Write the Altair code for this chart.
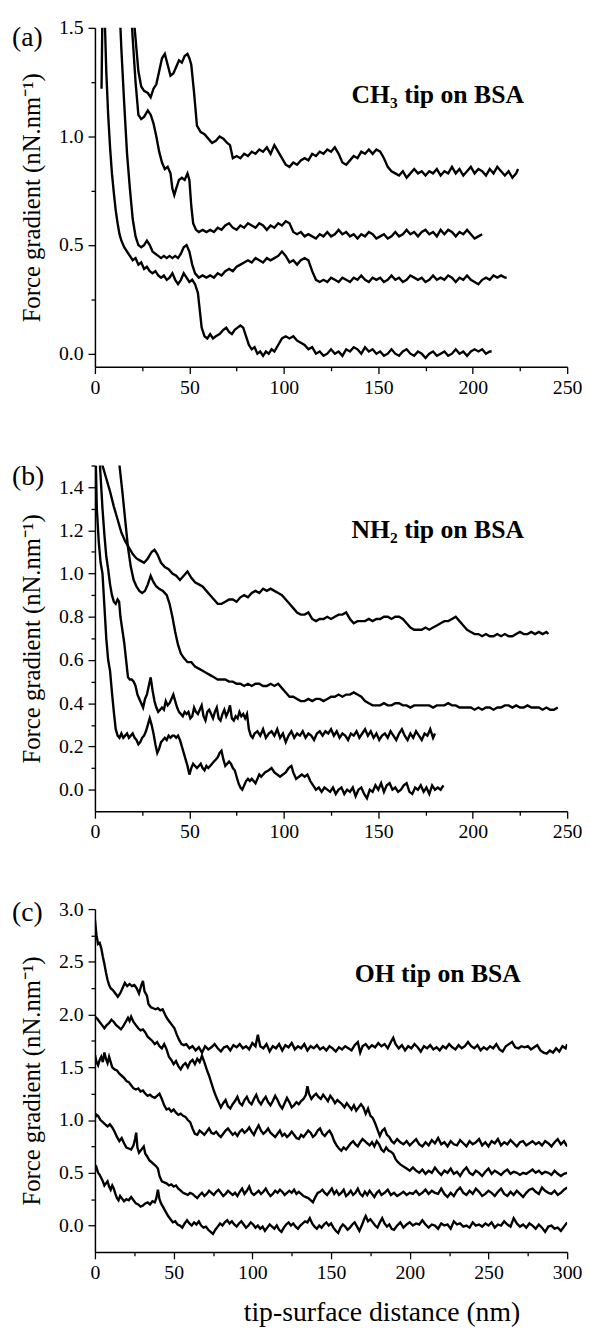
import altair as alt
import pandas as pd

FONT = "Liberation Serif"

# ---------------- Panel (a): CH3 tip on BSA ----------------
a1 = [(20,1.6),(21.5,1.45),(23,1.3),(24.5,1.23),(26,1.21),(28,1.2),(29.5,1.18),(31,1.22),(32.5,1.24),(34,1.3),
      (35.5,1.36),(37,1.38),(38.5,1.33),(40,1.28),(41.5,1.29),(43,1.32),(44.5,1.35),(46,1.34),(47.5,1.37),(49,1.38),
      (50,1.36),(51,1.33),(52.5,1.2),(54,1.05),(56,1.02),(58,1.01),(60,0.99),(62,0.97),(64,0.98),(66,1.0),
      (68,0.99),(70,0.97),(71.5,0.96),(73,0.9),(75,0.91),(77,0.9),(79,0.92),(81,0.91),(83,0.93),(85,0.92),
      (87,0.94),(89,0.93),(91,0.95),(93,0.92),(95,0.96),(97,0.93),(99,0.9),(101,0.87),(103,0.86),(105,0.88),
      (107,0.87),(109,0.89),(111,0.9),(113,0.89),(115,0.92),(117,0.91),(119,0.93),(121,0.92),(123,0.94),(125,0.93),
      (127,0.95),(129,0.92),(131,0.88),(133,0.87),(135,0.89),(137,0.91),(139,0.9),(141,0.93),(143,0.92),(145,0.94),
      (147,0.92),(149,0.94),(151,0.93),(153,0.9),(155,0.86),(157,0.84),(159,0.83),(161,0.82),(163,0.84),(165,0.81),
      (167,0.83),(169,0.85),(171,0.83),(173,0.84),(175,0.82),(177,0.84),(179,0.83),(181,0.85),(183,0.82),(185,0.84),
      (187,0.83),(189,0.86),(191,0.83),(193,0.85),(195,0.82),(197,0.84),(199,0.86),(201,0.83),(203,0.85),(205,0.84),
      (207,0.82),(209,0.85),(211,0.83),(213,0.86),(215,0.84),(217,0.82),(219,0.84),(221,0.81),(223,0.83),(224,0.85)]
a2 = [(19,1.6),(20,1.45),(21.5,1.25),(23,1.1),(24.5,1.08),(26,1.09),(28,1.12),(29.5,1.1),(31,1.06),(32.5,1.0),
      (34,0.93),(35.5,0.88),(37,0.85),(38.5,0.86),(40,0.83),(41,0.76),(42,0.73),(43,0.76),(44.5,0.8),(46,0.81),
      (47.5,0.8),(49,0.83),(50,0.8),(51,0.68),(52,0.6),(53.5,0.57),(55,0.56),(57,0.57),(59,0.56),(61,0.57),
      (63,0.56),(65,0.58),(67,0.57),(69,0.59),(71,0.6),(73,0.58),(75,0.57),(77,0.59),(79,0.58),(81,0.6),
      (83,0.59),(85,0.58),(87,0.6),(89,0.59),(91,0.57),(93,0.59),(95,0.58),(97,0.6),(99,0.59),(101,0.61),
      (103,0.6),(105,0.56),(107,0.55),(109,0.56),(111,0.54),(113,0.55),(115,0.54),(117,0.53),(119,0.55),(121,0.54),
      (123,0.56),(125,0.54),(127,0.55),(129,0.57),(131,0.55),(133,0.56),(135,0.54),(137,0.55),(139,0.53),(141,0.55),
      (143,0.54),(145,0.56),(147,0.55),(149,0.53),(151,0.54),(153,0.55),(155,0.53),(157,0.54),(159,0.56),(161,0.54),
      (163,0.55),(165,0.57),(167,0.55),(169,0.56),(171,0.54),(173,0.56),(175,0.57),(177,0.55),(179,0.56),(181,0.54),
      (183,0.57),(185,0.55),(187,0.57),(189,0.56),(191,0.54),(193,0.56),(195,0.55),(197,0.57),(199,0.55),(201,0.53),
      (203,0.54),(205,0.55)]
a3 = [(13,1.6),(14,1.4),(15.5,1.15),(17,0.92),(18.5,0.76),(20,0.62),(21.5,0.54),(23,0.5),(24.5,0.49),(26,0.5),
      (27.5,0.52),(29,0.5),(30.5,0.47),(32,0.46),(33.5,0.45),(35,0.44),(36.5,0.45),(38,0.44),(39.5,0.45),(41,0.44),
      (42.5,0.45),(44,0.44),(45.5,0.46),(47,0.49),(48.5,0.5),(50,0.47),(51.5,0.41),(53,0.37),(55,0.35),(57,0.36),
      (59,0.35),(61,0.36),(63,0.35),(65,0.37),(67,0.36),(69,0.38),(71,0.39),(73,0.38),(75,0.4),(77,0.41),
      (79,0.42),(81,0.43),(83,0.42),(85,0.44),(87,0.43),(89,0.42),(91,0.44),(93,0.43),(95,0.44),(97,0.45),
      (99,0.47),(101,0.45),(103,0.42),(105,0.43),(107,0.41),(109,0.43),(111,0.44),(113,0.43),(115,0.38),(117,0.34),
      (119,0.33),(121,0.34),(123,0.33),(125,0.35),(127,0.34),(129,0.33),(131,0.35),(133,0.34),(135,0.33),(137,0.35),
      (139,0.34),(141,0.36),(143,0.34),(145,0.33),(147,0.35),(149,0.34),(151,0.35),(153,0.33),(155,0.34),(157,0.36),
      (159,0.34),(161,0.35),(163,0.33),(165,0.34),(167,0.36),(169,0.35),(171,0.34),(173,0.35),(175,0.33),(177,0.34),
      (179,0.36),(181,0.34),(183,0.35),(185,0.34),(187,0.36),(189,0.35),(191,0.33),(193,0.35),(195,0.34),(197,0.36),
      (199,0.34),(201,0.33),(203,0.32),(205,0.34),(207,0.35),(209,0.34),(211,0.36),(213,0.35),(215,0.36),(217,0.35),(218,0.35)]
a4 = [(3.5,1.22),(4,1.6),(5,1.6),(6,1.3),(7,1.1),(8,0.95),(9,0.83),(10,0.74),(11,0.66),(12,0.6),
      (13,0.55),(14,0.52),(15.5,0.49),(17,0.47),(18.5,0.45),(20,0.43),(21.5,0.44),(23,0.41),(24.5,0.42),(26,0.39),
      (27.5,0.4),(29,0.38),(30.5,0.37),(32,0.38),(33.5,0.36),(35,0.35),(36.5,0.36),(38,0.34),(39.5,0.35),(41,0.37),
      (42.5,0.34),(44,0.32),(45.5,0.34),(47,0.37),(48.5,0.35),(50,0.33),(51.5,0.34),(53,0.32),(54.5,0.28),(55.5,0.2),
      (56.5,0.12),(58,0.08),(59.5,0.07),(61,0.09),(62.5,0.07),(64,0.08),(66,0.09),(68,0.11),(69.5,0.12),(71,0.1),
      (72.5,0.09),(74,0.11),(75.5,0.12),(77,0.13),(78.5,0.12),(80,0.08),(81.5,0.04),(83,0.02),(84.5,0.03),(86,0.0),
      (87.5,0.01),(89,-0.01),(90.5,0.01),(92,0.0),(93.5,0.02),(95,0.01),(97,0.04),(99,0.07),(101,0.08),(103,0.07),
      (105,0.08),(107,0.06),(109,0.05),(111,0.04),(113,0.02),(115,0.03),(117,0.0),(119,0.01),(121,-0.01),(123,0.0),
      (125,0.02),(127,0.0),(129,0.01),(131,-0.01),(133,0.02),(135,0.01),(137,0.03),(139,0.02),(141,0.0),(143,0.03),
      (145,0.01),(147,0.02),(149,0.0),(151,0.01),(153,-0.01),(155,0.0),(157,0.02),(159,0.0),(161,-0.01),(163,0.01),
      (165,0.02),(167,0.0),(169,-0.01),(171,0.01),(173,0.0),(175,-0.02),(177,0.0),(179,0.01),(181,-0.01),(183,0.0),
      (185,0.01),(187,-0.01),(189,0.0),(191,0.02),(193,0.0),(195,0.01),(197,-0.01),(199,0.01),(201,0.02),(203,0.01),
      (205,0.02),(207,0.0),(209,0.01),(210,0.01)]

# ---------------- Panel (b): NH2 tip on BSA ----------------
b1 = [(3,1.6),(4,1.5),(6,1.44),(8,1.38),(10,1.31),(12,1.25),(14,1.19),(16,1.15),(18,1.12),(20,1.09),
      (22,1.07),(24,1.06),(26,1.05),(28,1.07),(30,1.1),(31.5,1.11),(33,1.09),(35,1.05),(37,1.03),(39,1.02),
      (41,1.0),(43,0.99),(45,0.97),(47,0.99),(49,1.01),(51,0.98),(53,0.96),(55,0.95),(57,0.94),(59,0.92),
      (61,0.9),(63,0.88),(65,0.86),(67,0.86),(69,0.87),(71,0.88),(73,0.88),(75,0.87),(77,0.89),(79,0.9),
      (81,0.89),(83,0.91),(85,0.92),(87,0.91),(89,0.93),(91,0.92),(93,0.93),(95,0.92),(97,0.91),(99,0.9),
      (101,0.88),(103,0.86),(105,0.84),(107,0.82),(109,0.81),(111,0.81),(113,0.82),(115,0.79),(117,0.78),(119,0.79),
      (121,0.79),(123,0.8),(125,0.79),(127,0.8),(129,0.81),(131,0.81),(133,0.82),(135,0.79),(137,0.77),(139,0.78),
      (141,0.78),(143,0.78),(145,0.79),(147,0.78),(149,0.79),(151,0.79),(153,0.8),(155,0.8),(157,0.79),(159,0.8),
      (161,0.8),(163,0.79),(165,0.77),(167,0.75),(169,0.74),(171,0.74),(173,0.74),(175,0.75),(177,0.74),(179,0.75),
      (181,0.76),(183,0.77),(185,0.78),(187,0.78),(189,0.79),(191,0.8),(193,0.78),(195,0.76),(197,0.74),(199,0.73),
      (201,0.72),(203,0.72),(205,0.71),(207,0.72),(209,0.71),(211,0.71),(213,0.72),(215,0.71),(217,0.72),(219,0.71),
      (221,0.71),(223,0.72),(225,0.73),(227,0.72),(229,0.72),(231,0.73),(233,0.72),(235,0.73),(237,0.72),(239,0.73),(240,0.72)]
b2 = [(12,1.6),(13,1.5),(14.5,1.38),(16,1.25),(17.5,1.12),(19,1.03),(20.5,0.97),(22,0.94),(23.5,0.92),(25,0.91),
      (26.5,0.92),(28,0.95),(29.5,0.99),(31,0.96),(32.5,0.94),(34,0.93),(36,0.92),(38,0.9),(39.5,0.86),(41,0.8),
      (42.5,0.73),(44,0.67),(45.5,0.63),(47,0.61),(49,0.59),(51,0.59),(53,0.57),(55,0.56),(57,0.55),(59,0.54),
      (61,0.53),(63,0.52),(65,0.51),(67,0.51),(69,0.51),(71,0.5),(73,0.5),(75,0.49),(77,0.49),(79,0.48),
      (81,0.49),(83,0.48),(85,0.49),(87,0.49),(89,0.48),(91,0.48),(93,0.49),(95,0.48),(97,0.49),(99,0.47),
      (101,0.45),(103,0.43),(105,0.43),(107,0.42),(109,0.41),(111,0.41),(113,0.42),(115,0.41),(117,0.42),(119,0.42),
      (121,0.41),(123,0.42),(125,0.43),(127,0.43),(129,0.44),(131,0.43),(133,0.44),(135,0.44),(137,0.45),(139,0.44),
      (141,0.43),(143,0.41),(145,0.4),(147,0.39),(149,0.39),(151,0.39),(153,0.4),(155,0.39),(157,0.39),(159,0.4),
      (161,0.4),(163,0.39),(165,0.39),(167,0.38),(169,0.39),(171,0.39),(173,0.39),(175,0.39),(177,0.39),(179,0.38),
      (181,0.39),(183,0.39),(185,0.39),(187,0.4),(189,0.39),(191,0.39),(193,0.38),(195,0.38),(197,0.38),(199,0.38),
      (201,0.37),(203,0.38),(205,0.37),(207,0.38),(209,0.38),(211,0.37),(213,0.38),(215,0.38),(217,0.39),(219,0.39),
      (221,0.38),(223,0.39),(225,0.38),(227,0.38),(229,0.39),(231,0.38),(233,0.38),(235,0.38),(237,0.37),(239,0.38),
      (241,0.37),(243,0.37),(245,0.38)]
b3 = [(2,1.6),(3,1.45),(4,1.3),(5,1.18),(6,1.08),(7,1.02),(8,0.95),(9,0.9),(10,0.87),(11,0.86),
      (12,0.88),(12.8,0.87),(13.5,0.8),(14.5,0.74),(15.5,0.68),(16.5,0.6),(17.5,0.52),(18.5,0.51),(19.5,0.51),(20.5,0.5),
      (21.5,0.48),(22.5,0.44),(23.5,0.42),(24.5,0.4),(25.5,0.38),(26.5,0.42),(27.5,0.44),(28.5,0.48),(29.5,0.52),(30.5,0.46),
      (31.5,0.41),(32.5,0.38),(33.5,0.36),(34.5,0.37),(35.5,0.38),(36.5,0.37),(37.5,0.41),(38.5,0.39),(39.5,0.4),(40.5,0.42),
      (41.5,0.44),(42.5,0.41),(43.5,0.38),(44.5,0.36),(45.5,0.35),(46.5,0.34),(47.5,0.36),(48.5,0.35),(49.5,0.36),(50.5,0.33),
      (51.5,0.34),(52.5,0.38),(53.5,0.36),(54.5,0.35),(55.5,0.37),(56.5,0.39),(57.5,0.34),(58.5,0.32),(59.5,0.36),(60.5,0.37),
      (61.5,0.35),(62.5,0.33),(63.5,0.36),(64.5,0.38),(65.5,0.33),(66.5,0.32),(67.5,0.35),(68.5,0.37),(69.5,0.34),(70.5,0.36),
      (71.5,0.39),(72.5,0.33),(73.5,0.32),(74.5,0.34),(75.5,0.33),(76.5,0.36),(77.5,0.34),(78.5,0.35),(79.5,0.33),(80.5,0.35),
      (81.5,0.28),(82.5,0.25),(83.5,0.24),(84.5,0.26),(86,0.27),(87.5,0.25),(89,0.28),(90.5,0.24),(92,0.26),(93.5,0.27),
      (95,0.25),(96.5,0.28),(98,0.24),(99.5,0.26),(101,0.22),(102.5,0.25),(104,0.27),(105.5,0.24),(107,0.26),(108.5,0.25),
      (110,0.27),(111.5,0.24),(113,0.26),(114.5,0.25),(116,0.23),(117.5,0.26),(119,0.27),(120.5,0.25),(122,0.27),(123.5,0.26),
      (125,0.28),(126.5,0.25),(128,0.27),(129.5,0.24),(131,0.26),(132.5,0.25),(134,0.23),(135.5,0.26),(137,0.25),(138.5,0.27),
      (140,0.24),(141.5,0.26),(143,0.28),(144.5,0.25),(146,0.27),(147.5,0.24),(149,0.26),(150.5,0.23),(152,0.25),(153.5,0.26),
      (155,0.24),(156.5,0.27),(158,0.25),(159.5,0.23),(161,0.26),(162.5,0.28),(164,0.25),(165.5,0.23),(167,0.26),(168.5,0.24),
      (170,0.27),(171.5,0.25),(173,0.23),(174.5,0.26),(176,0.25),(177.5,0.28),(179,0.24),(180,0.26)]
b4 = [(0,1.38),(0.5,1.5),(1,1.3),(2,1.15),(3,1.05),(4,1.0),(5,0.85),(6,0.7),(7,0.6),(8,0.55),
      (9,0.45),(10,0.36),(11,0.28),(12,0.25),(13,0.24),(14,0.26),(15,0.24),(16,0.25),(17,0.26),(18,0.24),
      (19,0.25),(20,0.26),(21,0.24),(22,0.23),(23,0.21),(24,0.22),(25,0.24),(26,0.25),(27,0.27),(28,0.3),
      (29,0.33),(30,0.3),(31,0.26),(32,0.21),(33,0.17),(34,0.19),(35,0.22),(36,0.23),(37,0.24),(38,0.23),
      (39,0.25),(40,0.24),(41,0.25),(42,0.25),(43,0.24),(44,0.25),(45,0.23),(46,0.2),(47,0.17),(48,0.14),
      (49,0.11),(50,0.07),(51,0.1),(52,0.12),(53,0.11),(54,0.1),(55,0.11),(56,0.12),(57,0.1),(58,0.09),
      (59,0.11),(60,0.1),(61,0.11),(62,0.12),(63,0.13),(64,0.14),(65,0.15),(66,0.17),(67,0.18),(68,0.14),
      (69,0.11),(70,0.12),(71,0.13),(72,0.12),(73,0.1),(74,0.09),(75,0.06),(76,0.03),(77,0.01),(78,0.0),
      (79,0.02),(80,0.04),(81,0.05),(82,0.04),(83,0.05),(84,0.04),(85,0.03),(86,0.05),(87,0.07),(88,0.06),
      (90,0.08),(92,0.09),(93.5,0.1),(95,0.08),(96.5,0.07),(98,0.06),(99.5,0.07),(101,0.08),(102.5,0.1),(104,0.11),
      (105,0.08),(106.5,0.05),(108,0.06),(109.5,0.07),(111,0.06),(112.5,0.07),(114,0.04),(115.5,0.02),(117,0.0),(118.5,0.01),
      (120,-0.01),(121.5,0.01),(123,0.0),(124.5,-0.01),(126,0.01),(127.5,-0.02),(129,0.0),(130.5,0.01),(132,-0.02),(133.5,0.0),
      (135,-0.01),(136.5,0.01),(138,-0.03),(139.5,0.0),(141,0.01),(142.5,-0.02),(144,-0.04),(145.5,0.0),(147,-0.01),(148.5,0.02),
      (150,0.0),(151.5,0.03),(153,-0.01),(154.5,0.02),(156,0.03),(157.5,0.0),(159,0.01),(160.5,-0.01),(162,0.0),(163.5,0.02),
      (165,0.03),(166.5,-0.01),(168,-0.02),(169.5,0.01),(171,0.0),(172.5,0.02),(174,-0.01),(175.5,0.01),(177,-0.02),(178.5,0.02),
      (180,0.0),(181.5,0.01),(183,0.0),(184.5,0.02)]

# ---------------- Panel (c): OH tip on BSA ----------------
c1 = [(0,2.9),(1,2.75),(2,2.67),(3,2.68),(4,2.63),(5,2.55),(6,2.48),(7,2.4),(8,2.33),(9,2.28),
      (10,2.25),(11.5,2.23),(13,2.2),(14.5,2.17),(16,2.2),(17.5,2.25),(19,2.3),(20.5,2.27),(22,2.29),(23.5,2.27),
      (25,2.28),(26.5,2.25),(28,2.2),(29.5,2.28),(30.5,2.32),(31.5,2.22),(33,2.18),(34,2.1),(35.5,2.07),(37,2.06),
      (38.5,2.05),(40,2.06),(41.5,2.04),(43,2.05),(44.5,2.0),(46,1.96),(47.5,1.93),(49,1.9),(50.5,1.87),(52,1.81),
      (53.5,1.76),(55,1.72),(56.5,1.71),(58,1.72),(60,1.68),(62,1.7),(64,1.66),(66,1.69),(68,1.64),(70,1.7),
      (72,1.67),(74,1.69),(76,1.72),(78,1.68),(80,1.65),(82,1.69),(84,1.7),(86,1.66),(88,1.71),(90,1.69),
      (92,1.72),(94,1.68),(96,1.7),(98,1.67),(100,1.73),(102,1.7),(103.5,1.81),(105,1.7),(107,1.68),(109,1.72),
      (111,1.65),(113,1.7),(115,1.68),(117,1.72),(119,1.66),(121,1.71),(123,1.69),(125,1.73),(127,1.67),(129,1.7),
      (131,1.68),(133,1.72),(135,1.66),(137,1.7),(139,1.68),(141,1.71),(143,1.67),(145,1.69),(147,1.66),(149,1.7),
      (151,1.68),(153,1.65),(155,1.69),(157,1.67),(159,1.7),(161,1.68),(163,1.66),(165,1.71),(167,1.74),(168.5,1.64),
      (170,1.7),(172,1.72),(174,1.68),(176,1.71),(178,1.69),(180,1.73),(182,1.7),(184,1.72),(186,1.68),(188,1.74),
      (189.5,1.78),(191,1.72),(193,1.68),(195,1.71),(197,1.66),(199,1.7),(201,1.68),(203,1.72),(205,1.69),(207,1.65),
      (209,1.7),(211,1.68),(213,1.71),(215,1.67),(217,1.69),(219,1.66),(221,1.7),(223,1.68),(225,1.72),(227,1.69),
      (229,1.67),(231,1.71),(233,1.68),(235,1.7),(237,1.74),(239,1.7),(241,1.68),(243,1.71),(245,1.66),(247,1.69),
      (249,1.67),(251,1.7),(253,1.68),(255,1.72),(257,1.67),(259,1.65),(261,1.7),(263,1.72),(265,1.74),(267,1.69),
      (269,1.68),(271,1.7),(273,1.69),(275,1.7),(277,1.67),(279,1.69),(281,1.71),(283,1.66),(285,1.64),(287,1.63),
      (289,1.66),(291,1.64),(293,1.68),(295,1.65),(297,1.7),(299,1.68),(300,1.72)]
c2 = [(0,1.98),(1.5,1.96),(3,1.93),(4.5,1.9),(6,1.87),(7.5,1.9),(9,1.92),(10.5,1.95),(12,1.93),(13.5,1.9),
      (15,1.88),(16.5,1.86),(18,1.89),(19.5,1.93),(21,1.97),(22,1.94),(23,1.98),(24.5,1.93),(26,1.9),(27.5,1.87),
      (29,1.85),(30.5,1.86),(32,1.83),(33.5,1.79),(35,1.77),(36.5,1.75),(38,1.72),(39.5,1.74),(41,1.7),(42.5,1.68),
      (44,1.72),(45.5,1.67),(47,1.6),(48.5,1.57),(50,1.53),(51.5,1.56),(53,1.51),(54.5,1.48),(56,1.52),(57.5,1.54),
      (59,1.5),(60.5,1.55),(62,1.57),(63.5,1.53),(65,1.58),(66.5,1.55),(68,1.61),(69.5,1.55),(71,1.48),(72.5,1.42),
      (74,1.35),(75.5,1.28),(77,1.22),(78.5,1.17),(80,1.12),(81.5,1.16),(83,1.19),(84.5,1.13),(86,1.11),(87.5,1.15),
      (89,1.18),(90.5,1.22),(92,1.16),(93.5,1.14),(95,1.19),(96.5,1.22),(98,1.17),(99.5,1.15),(101,1.2),(102.5,1.24),
      (104,1.18),(105.5,1.15),(107,1.19),(108.5,1.22),(110,1.17),(111.5,1.14),(113,1.18),(114.5,1.23),(116,1.19),(117.5,1.14),
      (119,1.11),(120.5,1.16),(122,1.21),(123.5,1.17),(125,1.12),(126.5,1.14),(128,1.17),(129.5,1.15),(131,1.18),(132.5,1.2),
      (134,1.24),(135,1.32),(136,1.25),(137.5,1.2),(139,1.23),(140.5,1.25),(142,1.22),(143.5,1.2),(145,1.24),(146.5,1.21),
      (148,1.18),(149.5,1.23),(151,1.2),(152.5,1.16),(154,1.19),(155.5,1.17),(157,1.15),(158.5,1.12),(160,1.16),(161.5,1.13),
      (163,1.1),(164.5,1.14),(166,1.09),(167.5,1.12),(169,1.15),(170.5,1.12),(172,1.06),(173.5,1.11),(175,1.04),(176.5,1.02),
      (178,0.97),(179.5,0.91),(181,0.85),(182.5,0.9),(184,0.92),(185.5,0.86),(187,0.84),(188.5,0.8),(190,0.78),(192,0.82),
      (194,0.79),(196,0.77),(198,0.8),(200,0.76),(202,0.79),(204,0.82),(206,0.77),(208,0.75),(210,0.79),(212,0.76),
      (214,0.81),(216,0.78),(218,0.83),(220,0.77),(222,0.79),(224,0.75),(226,0.8),(228,0.77),(230,0.76),(232,0.81),
      (234,0.78),(236,0.75),(238,0.8),(240,0.77),(242,0.79),(244,0.82),(246,0.76),(248,0.79),(250,0.75),(252,0.8),
      (254,0.78),(256,0.82),(258,0.76),(260,0.79),(262,0.77),(264,0.81),(266,0.78),(268,0.75),(270,0.79),(272,0.8),
      (274,0.76),(276,0.78),(278,0.8),(280,0.77),(282,0.79),(284,0.76),(286,0.8),(288,0.78),(290,0.75),(292,0.79),
      (294,0.82),(296,0.77),(298,0.8),(300,0.75)]
c3 = [(0,1.62),(1,1.55),(2,1.52),(3,1.57),(4,1.6),(5,1.55),(6,1.64),(7,1.58),(8,1.54),(9,1.6),
      (10,1.55),(11,1.5),(12.5,1.48),(14,1.47),(15.5,1.44),(17,1.42),(18.5,1.4),(20,1.37),(21.5,1.36),(23,1.33),
      (24.5,1.3),(26,1.29),(27.5,1.3),(29,1.27),(30.5,1.28),(32,1.25),(33.5,1.23),(35,1.24),(36.5,1.22),(38,1.21),
      (39.5,1.23),(41,1.25),(42.5,1.2),(44,1.14),(45.5,1.1),(47,1.11),(48.5,1.08),(50,1.1),(51.5,1.07),(53,1.05),
      (54.5,1.06),(56,1.04),(57.5,1.03),(59,1.0),(60.5,0.98),(62,0.92),(63.5,0.87),(65,0.86),(66.5,0.9),(68,0.88),
      (69.5,0.86),(71,0.89),(72.5,0.92),(74,0.88),(75.5,0.87),(77,0.89),(78.5,0.86),(80,0.84),(81.5,0.87),(83,0.9),
      (84.5,0.92),(86,0.89),(87.5,0.86),(89,0.88),(90.5,0.85),(92,0.89),(93.5,0.91),(95,0.88),(96.5,0.9),(98,0.93),
      (99.5,0.89),(101,0.86),(102.5,0.91),(104,0.95),(105.5,0.9),(107,0.87),(108.5,0.89),(110,0.92),(111.5,0.88),(113,0.86),
      (114.5,0.84),(116,0.87),(117.5,0.9),(119,0.85),(120.5,0.87),(122,0.84),(123.5,0.86),(125,0.89),(126.5,0.86),(128,0.83),
      (129.5,0.82),(131,0.86),(132.5,0.84),(134,0.87),(135.5,0.9),(137,0.88),(138.5,0.84),(140,0.86),(141.5,0.9),(143,0.92),
      (144.5,0.87),(146,0.85),(147.5,0.88),(149,0.9),(150.5,0.86),(152,0.8),(153.5,0.76),(155,0.73),(156.5,0.71),(158,0.74),
      (159.5,0.72),(161,0.75),(162.5,0.78),(164,0.8),(165.5,0.77),(167,0.75),(168.5,0.79),(170,0.82),(171.5,0.8),(173,0.78),
      (174.5,0.76),(176,0.79),(177.5,0.75),(179,0.8),(180.5,0.77),(182,0.72),(183.5,0.7),(185,0.74),(186.5,0.71),(188,0.7),
      (189.5,0.68),(191,0.63),(192.5,0.6),(194,0.58),(196,0.56),(198,0.54),(200,0.52),(202,0.55),(204,0.52),(206,0.5),
      (208,0.53),(210,0.49),(212,0.52),(214,0.5),(216,0.55),(218,0.51),(220,0.48),(222,0.52),(224,0.5),(226,0.54),
      (228,0.49),(230,0.51),(232,0.47),(234,0.52),(236,0.55),(238,0.5),(240,0.48),(242,0.52),(244,0.5),(246,0.47),
      (248,0.51),(250,0.54),(252,0.49),(254,0.52),(256,0.5),(258,0.48),(260,0.51),(262,0.53),(264,0.49),(266,0.51),
      (268,0.5),(270,0.48),(272,0.5),(274,0.49),(276,0.51),(278,0.53),(280,0.5),(282,0.52),(284,0.49),(286,0.51),
      (288,0.5),(290,0.48),(292,0.52),(294,0.49),(296,0.47),(298,0.49),(300,0.5)]
c4 = [(0,1.02),(1,1.05),(2,1.04),(3.5,1.0),(5,0.98),(6.5,0.96),(8,0.94),(9.5,0.96),(11,0.93),(12.5,0.89),
      (14,0.84),(15.5,0.8),(17,0.83),(18.5,0.78),(20,0.74),(21.5,0.73),(23,0.72),(24.5,0.76),(25.5,0.82),(26.2,0.88),
      (27,0.74),(28,0.69),(29.5,0.72),(31,0.75),(32,0.68),(33,0.66),(34.5,0.62),(36,0.6),(37.5,0.58),(39,0.56),
      (40,0.54),(41,0.47),(42.5,0.42),(44,0.41),(45.5,0.4),(47,0.38),(48.5,0.39),(50,0.37),(51.5,0.38),(53,0.35),
      (54.5,0.33),(56,0.31),(57.5,0.3),(59,0.29),(60.5,0.31),(62,0.3),(63.5,0.28),(65,0.26),(66.5,0.29),(68,0.31),
      (69.5,0.28),(71,0.3),(72.5,0.33),(74,0.31),(75.5,0.29),(77,0.32),(78.5,0.34),(80,0.31),(81.5,0.28),(83,0.3),
      (84.5,0.33),(86,0.31),(87.5,0.29),(89,0.31),(90.5,0.28),(92,0.32),(93.5,0.35),(95,0.3),(96.5,0.33),(98,0.37),
      (99.5,0.31),(101,0.29),(102.5,0.31),(104,0.33),(105.5,0.3),(107,0.32),(108.5,0.35),(110,0.31),(111.5,0.28),(113,0.3),
      (114.5,0.33),(116,0.31),(117.5,0.34),(119,0.32),(120.5,0.29),(122,0.31),(123.5,0.33),(125,0.31),(126.5,0.34),(128,0.3),
      (129.5,0.32),(131,0.3),(132.5,0.28),(134,0.27),(135.5,0.26),(137,0.24),(138.5,0.22),(140,0.27),(141.5,0.31),(143,0.32),
      (144.5,0.34),(146,0.31),(147.5,0.29),(149,0.32),(150.5,0.35),(152,0.3),(153.5,0.33),(155,0.29),(156.5,0.31),(158,0.34),
      (159.5,0.28),(161,0.3),(162.5,0.33),(164,0.29),(165.5,0.31),(167,0.35),(168.5,0.3),(170,0.28),(171.5,0.32),(173,0.29),
      (174.5,0.33),(176,0.3),(177.5,0.27),(179,0.31),(180.5,0.33),(182,0.29),(184,0.31),(186,0.34),(188,0.29),(190,0.31),
      (192,0.28),(194,0.3),(196,0.32),(198,0.29),(200,0.31),(202,0.3),(204,0.33),(206,0.29),(208,0.31),(210,0.34),
      (212,0.3),(214,0.33),(216,0.31),(218,0.3),(220,0.35),(222,0.3),(224,0.27),(226,0.31),(228,0.28),(230,0.33),
      (232,0.36),(234,0.31),(236,0.29),(238,0.33),(240,0.3),(242,0.35),(244,0.32),(246,0.28),(248,0.3),(250,0.33),
      (252,0.31),(254,0.28),(256,0.32),(258,0.35),(260,0.3),(262,0.28),(264,0.32),(266,0.29),(268,0.33),(270,0.3),
      (272,0.27),(274,0.31),(276,0.34),(278,0.35),(280,0.32),(282,0.3),(284,0.36),(286,0.33),(288,0.31),(290,0.3),
      (292,0.33),(294,0.29),(296,0.31),(298,0.34),(300,0.36)]
c5 = [(0,0.52),(1,0.55),(2,0.5),(3,0.48),(4,0.45),(5,0.42),(6,0.38),(7,0.4),(8,0.42),(9,0.37),
      (10,0.34),(11,0.38),(12,0.35),(13,0.3),(14,0.26),(15,0.24),(16,0.28),(17,0.26),(18.5,0.23),(20,0.25),
      (21.5,0.24),(23,0.27),(24.5,0.24),(26,0.21),(27.5,0.2),(29,0.18),(30.5,0.19),(32,0.21),(33.5,0.22),(35,0.2),
      (36.5,0.23),(38,0.22),(39,0.26),(40,0.34),(41,0.25),(42,0.21),(43.5,0.17),(45,0.13),(46.5,0.09),(48,0.06),
      (49.5,0.03),(51,0.04),(52.5,0.01),(54,0.0),(55.5,-0.02),(57,0.02),(58.5,0.05),(60,0.02),(61.5,0.0),(63,0.03),
      (64.5,0.01),(66,0.04),(67.5,0.0),(69,-0.02),(70.5,-0.01),(72,-0.04),(73.5,-0.06),(75,-0.08),(76.5,-0.04),(78,-0.01),
      (79.5,0.02),(81,0.0),(82.5,0.03),(84,0.05),(85.5,0.02),(87,0.04),(88.5,0.01),(90,-0.01),(91.5,0.02),(93,0.04),
      (94.5,0.01),(96,-0.02),(97.5,0.0),(99,0.03),(100.5,0.01),(102,-0.02),(103.5,0.0),(105,-0.03),(106.5,-0.01),(108,-0.05),
      (109.5,-0.02),(111,0.01),(112.5,-0.01),(114,-0.03),(115.5,0.0),(117,-0.04),(118.5,-0.06),(120,-0.02),(121.5,0.01),(123,0.03),
      (124.5,0.0),(126,0.02),(127.5,-0.01),(129,-0.03),(130.5,0.0),(132,0.02),(133.5,0.04),(135,0.03),(136.5,0.07),(138,0.02),
      (139.5,-0.01),(141,-0.03),(142.5,0.0),(144,-0.02),(145.5,0.01),(147,0.03),(148.5,0.0),(150,0.02),(151.5,-0.02),(153,-0.05),
      (154.5,-0.07),(156,-0.02),(157.5,0.01),(159,-0.01),(160.5,-0.04),(162,-0.02),(163.5,0.01),(165,0.03),(166.5,-0.01),(168,-0.05),
      (169.5,0.0),(171,0.06),(172,0.09),(173.5,0.04),(175,0.06),(176.5,0.03),(178,0.0),(179.5,-0.02),(181,0.03),(182.5,0.07),
      (184,0.02),(185.5,-0.01),(187,0.01),(188.5,-0.03),(190,-0.04),(192,0.0),(194,0.03),(196,-0.02),(198,0.01),(200,0.03),
      (202,0.0),(204,0.02),(206,0.01),(208,0.05),(210,0.01),(212,-0.02),(214,0.01),(216,0.0),(218,-0.03),(220,0.02),
      (222,0.0),(224,0.01),(226,-0.03),(228,0.04),(230,0.01),(232,0.02),(234,-0.01),(236,0.0),(238,-0.02),(240,0.03),
      (242,0.0),(244,0.01),(246,-0.01),(248,0.02),(250,0.0),(252,0.03),(254,-0.02),(256,0.01),(258,0.0),(260,0.04),
      (262,0.01),(264,-0.01),(266,0.07),(268,0.02),(270,-0.01),(272,0.01),(274,-0.02),(276,0.02),(278,0.0),(280,-0.03),
      (282,0.01),(284,-0.02),(286,-0.06),(288,-0.01),(290,0.0),(292,-0.03),(294,-0.02),(296,-0.05),(298,-0.01),(300,0.03)]

# ---------------- Axis ticks and texts ----------------
ab_xticks = [0, 25, 50, 75, 100, 125, 150, 175, 200, 225, 250]
c_xticks = [0, 25, 50, 75, 100, 125, 150, 175, 200, 225, 250, 275, 300]
a_yticks = [0, 0.25, 0.5, 0.75, 1.0, 1.25, 1.5]
b_yticks = [0, 0.1, 0.2, 0.3, 0.4, 0.5, 0.6, 0.7, 0.8, 0.9, 1.0, 1.1, 1.2, 1.3, 1.4, 1.5]
c_yticks = [0, 0.25, 0.5, 0.75, 1.0, 1.25, 1.5, 1.75, 2.0, 2.25, 2.5, 2.75, 3.0]
panel_labels = ["(a)", "(b)", "(c)"]
notes = ["CH\u2083 tip on BSA", "NH\u2082 tip on BSA", "OH tip on BSA"]
y_title = "Force gradient (nN.nm\u207b\u00b9)"
x_title = "tip-surface distance (nm)"

W = 478


def make_df(curves):
    rows = []
    for cid, pts in enumerate(curves):
        for i, (xv, yv) in enumerate(pts):
            rows.append({"x": xv, "y": yv, "c": cid, "i": i})
    return pd.DataFrame(rows)


AX = dict(grid=False, labelFlush=False, labelOverlap=False,
          domainColor="black", domainWidth=1.5, tickColor="black", tickWidth=1.3,
          labelFont=FONT, labelFontSize=20, labelColor="black",
          titleFont=FONT, titleFontWeight="normal", titleColor="black")


def panel(curves, xdom, xticks, ydom, yticks, ymajor_test, height, label, label_dy,
          note, note_dy, xtitle=None, spacer=None):
    df = make_df(curves)
    xkw = dict(title=x_title, titleFontSize=28, titlePadding=16, titleX=290, titleAlign="center") if xtitle else dict(title="")
    xaxis = alt.Axis(
        values=xticks,
        labelExpr="datum.value % 50 == 0 ? datum.label : ''",
        tickSize={"condition": {"test": "datum.value % 50 == 0", "value": 7}, "value": 4},
        labelPadding=4,
        **xkw,
        **AX,
    )
    yaxis = alt.Axis(
        values=yticks,
        labelExpr=f"({ymajor_test}) ? format(datum.value, '.1f') : ''",
        tickSize={"condition": {"test": ymajor_test, "value": 7}, "value": 4},
        labelPadding=5,
        title=y_title, titleFontSize=25, titlePadding=14,
        **AX,
    )
    lines = alt.Chart(df).mark_line(color="black", strokeWidth=2.4, clip=True).encode(
        x=alt.X("x:Q", scale=alt.Scale(domain=xdom, nice=False, zero=False), axis=xaxis),
        y=alt.Y("y:Q", scale=alt.Scale(domain=ydom, nice=False, zero=False), axis=yaxis),
        detail="c:N",
        order="i:Q",
    )
    lab = alt.Chart(alt.Data(values=[{"t": label}])).mark_text(
        font=FONT, fontSize=28, align="left", baseline="middle", color="black"
    ).encode(x=alt.value(-84), y=alt.value(label_dy), text="t:N")
    nt = alt.Chart(alt.Data(values=[{"t": note}])).mark_text(
        font=FONT, fontSize=26, fontWeight="bold", align="center", baseline="middle", color="black"
    ).encode(x=alt.value(347), y=alt.value(note_dy), text="t:N")
    layers = [lines, lab, nt]
    if spacer is not None:
        sp = alt.Chart(alt.Data(values=[{"t": "."}])).mark_text(
            font=FONT, fontSize=10, baseline="top", opacity=0
        ).encode(x=alt.value(0), y=alt.value(spacer), text="t:N")
        layers.append(sp)
    return alt.layer(*layers).properties(width=W, height=height)


pa = panel([a1, a2, a3, a4], [0, 250], ab_xticks, [-0.06, 1.5], a_yticks,
           "abs(datum.value*2 - round(datum.value*2)) < 0.001", 343, panel_labels[0], 10, notes[0], 68)
pb = panel([b1, b2, b3, b4], [0, 250], ab_xticks, [-0.1, 1.5], b_yticks,
           "abs(datum.value*5 - round(datum.value*5)) < 0.001", 350, panel_labels[1], 12, notes[1], 65,
           spacer=-11)
pc = panel([c1, c2, c3, c4, c5], [0, 300], c_xticks, [-0.25, 3.0], c_yticks,
           "abs(datum.value*2 - round(datum.value*2)) < 0.001", 347, panel_labels[2], 4, notes[2], 66,
           xtitle=x_title)

chart = alt.vconcat(pa, pb, pc, spacing=58).properties(
    padding={"left": 4, "top": 2, "right": 0, "bottom": 0},
    background="white",
).configure_view(stroke=None)

chart.save("out.html", embed_options={"renderer": "svg", "actions": False})
